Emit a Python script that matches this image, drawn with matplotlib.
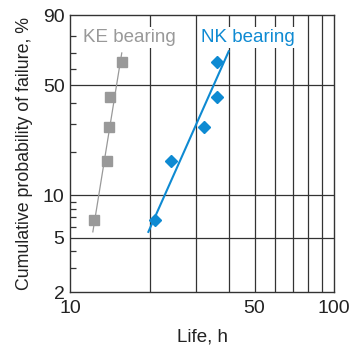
import numpy as np
import matplotlib
matplotlib.use('Agg')
import matplotlib.pyplot as plt

plt.rcParams['font.family'] = ['Liberation Sans', 'DejaVu Sans']

# cumulative probability of failure (%) shared by both bearings
prob = [6.7, 17.2, 28.9, 43.4, 64.2]
ke_life = [12.3, 13.8, 14.05, 14.2, 15.8]
nk_life = [21.0, 24.1, 32.1, 36.0, 36.0]

# fitted Weibull lines (end points)
ke_fit_life = [12.2, 15.7]
ke_fit_prob = [5.5, 70]
nk_fit_life = [19.8, 39.9]
nk_fit_prob = [5.5, 71]

x_grid = [20, 30, 40, 50, 60, 70, 80, 90]
y_grid = [5, 10, 50]
y_major = [2, 5, 10, 50, 90]
y_minor = [3, 4, 6, 7, 8, 9, 20, 30, 40, 60, 70, 80]
x_major = [10, 50, 100]

gray = '#999999'
blue = '#0e8ad2'
dark = '#333333'


def fwd(p):
    p = np.clip(np.asarray(p, dtype=float), 1e-6, 99.9999)
    return np.log(-np.log(1 - p / 100.0))


def inv(u):
    return 100.0 * (1 - np.exp(-np.exp(u)))


fig = plt.figure(figsize=(3.52, 3.49), dpi=100)
ax = fig.add_axes([0.199, 0.163, 0.750, 0.794])
ax.set_xscale('log')
ax.set_yscale('function', functions=(fwd, inv))
ax.set_xlim(10, 100)
ax.set_ylim(2, 90)

for x in x_grid:
    ax.axvline(x, color=dark, lw=0.9, zorder=1)
for y in y_grid:
    ax.axhline(y, color=dark, lw=0.9, zorder=1)

ax.plot(ke_fit_life, ke_fit_prob, color=gray, lw=0.9, zorder=3)
ax.plot(ke_life, prob, 's', color=gray, ms=7, zorder=4)
ax.plot(nk_fit_life, nk_fit_prob, color=blue, lw=1.5, zorder=3)
ax.plot(nk_life, prob, 'D', color=blue, ms=6.5, zorder=4)

ax.text(11.2, 79, 'KE bearing', color=gray, fontsize=13.5, va='center', ha='left',
        bbox=dict(fc='white', ec='none', pad=1.5), zorder=5)
ax.text(31.3, 79, 'NK bearing', color=blue, fontsize=13.5, va='center', ha='left',
        bbox=dict(fc='white', ec='none', pad=1.5), zorder=5)

ax.set_xticks(x_major)
ax.set_xticklabels([str(v) for v in x_major])
ax.xaxis.set_minor_locator(matplotlib.ticker.NullLocator())
ax.set_yticks(y_major)
ax.set_yticklabels([str(v) for v in y_major])
ax.set_yticks(y_minor, minor=True)
ax.tick_params(axis='both', which='major', length=0, labelsize=14, pad=4, colors='#222222')
ax.tick_params(axis='x', which='major', pad=6)
ax.tick_params(axis='y', which='minor', direction='in', length=4, width=0.9, color=dark)

for s in ax.spines.values():
    s.set_color(dark)
    s.set_linewidth(1.0)

ax.set_xlabel('Life, h', fontsize=13.5, labelpad=8, color='#222222')
ax.set_ylabel('Cumulative probability of failure, %', fontsize=12.8, labelpad=7, color='#222222')

fig.savefig('out.png', dpi=100)
